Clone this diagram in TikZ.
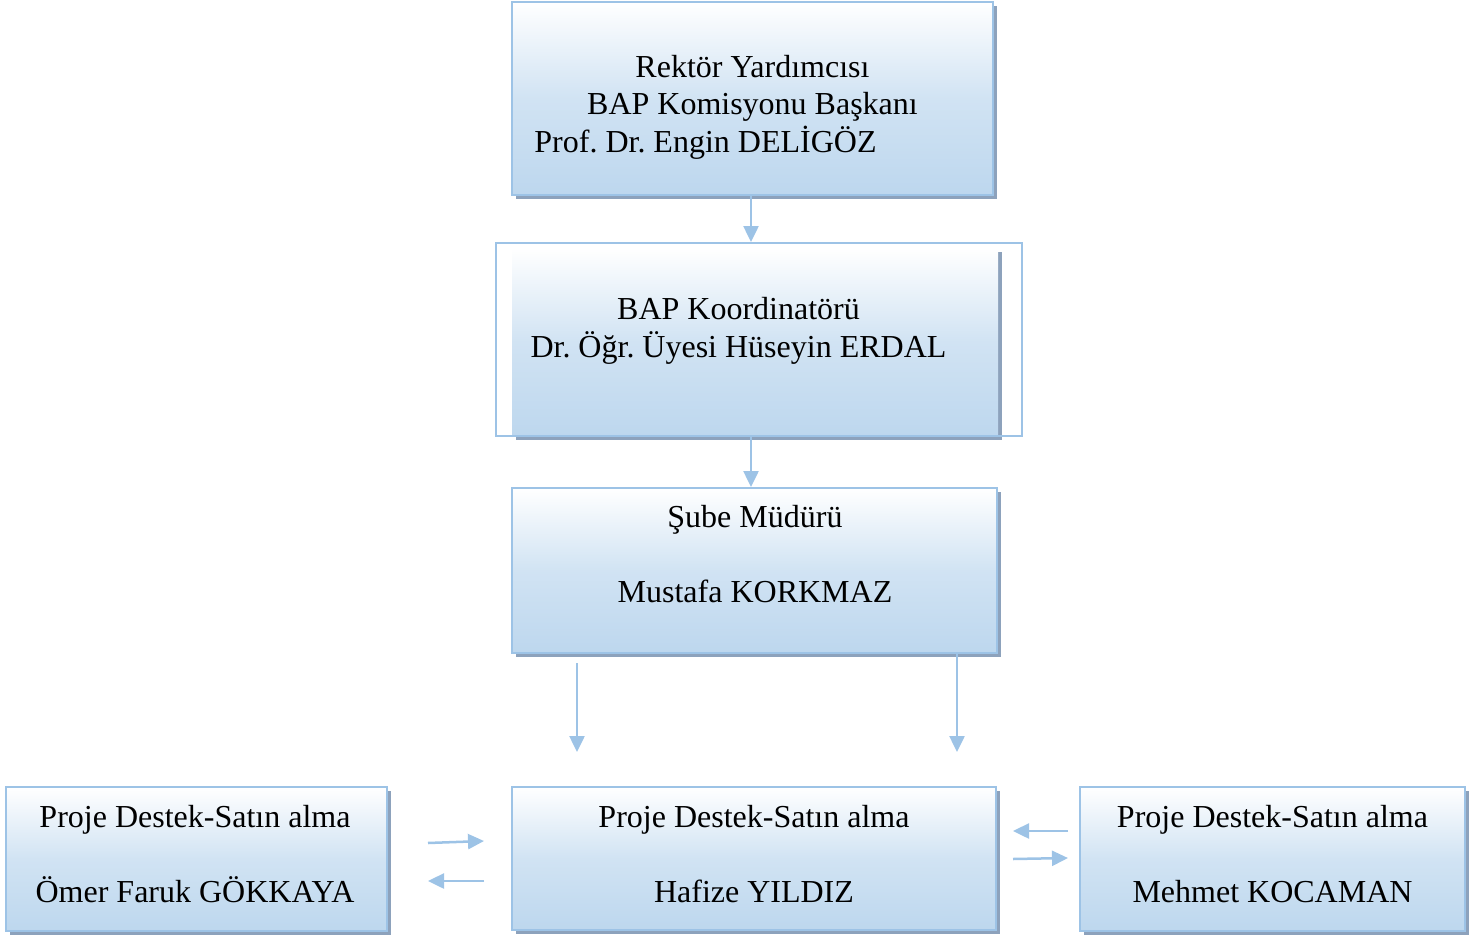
\documentclass[tikz,border=0pt]{standalone}
\usepackage{fontspec}
\setmainfont{Liberation Serif}
\usetikzlibrary{arrows.meta,shadows}
\frenchspacing
\definecolor{linec}{HTML}{9DC3E6}
\definecolor{fillc}{HTML}{BDD7EE}
\definecolor{shadec}{HTML}{8DA2BC}
\tikzset{
  box/.style={top color=white, bottom color=fillc, middle color=fillc!70!white,
    draw=linec, line width=2pt, inner sep=0pt,
    drop shadow={opacity=1, fill=shadec, shadow xshift=4pt, shadow yshift=-4pt}},
  txt/.style={inner sep=0pt, align=center, font=\fontsize{32}{37.5}\selectfont},
  conn/.style={draw=linec, line width=2.5pt, -{Triangle[width=15pt,length=16pt]}},
}
\begin{document}
\begin{tikzpicture}[x=1pt,y=-1pt]
  \useasboundingbox (0,0) rectangle (1476,937);
  %% top
  \node[box, minimum width=481pt, minimum height=193pt] (rektor) at (752.5,98.5) {};
  \node[txt] (rektortxt) at (752.5,107)
    {Rektör Yardımcısı\\BAP Komisyonu Başkanı\\Prof. Dr. Engin DELİGÖZ\hspace*{94pt}};
  %% coordinator
  \node[box, draw=none, minimum width=486pt, minimum height=188pt] (koord) at (755,342) {};
  \node[draw=linec, line width=2pt, minimum width=526pt, minimum height=193pt] (frame) at (759,339.5) {};
  \node[txt] (koordtxt) at (738.5,331) {BAP Koordinatörü\\Dr. Öğr. Üyesi Hüseyin ERDAL};
  %% branch manager
  \node[box, minimum width=485pt, minimum height=165pt] (sube) at (754.5,570.5) {};
  \node[txt] (subetxt) at (755,554) {Şube Müdürü\\[37.5pt]Mustafa KORKMAZ};
  %% staff
  \node[box, minimum width=381pt, minimum height=144pt] (left) at (196.5,859) {};
  \node[txt] (lefttxt) at (195,854) {Proje Destek-Satın alma\\[37.5pt]Ömer Faruk GÖKKAYA};
  \node[box, minimum width=484pt, minimum height=143pt] (mid) at (754,858.5) {};
  \node[txt] (midtxt) at (754,854) {Proje Destek-Satın alma\\[37.5pt]Hafize YILDIZ};
  \node[box, minimum width=385pt, minimum height=144pt] (right) at (1272.5,859) {};
  \node[txt] (righttxt) at (1272.5,854) {Proje Destek-Satın alma\\[37.5pt]Mehmet KOCAMAN};
  %% arrows
  \draw[conn] (rektor.south -| 751,0) -- (frame.north -| 751,0);
  \draw[conn] (koord.south -| 751,0) -- (sube.north -| 751,0);
  \coordinate (d1) at (577,752);
  \coordinate (d2) at (957,752);
  \draw[conn] ([yshift=-9pt]sube.south -| d1) -- (d1);
  \draw[conn] (sube.south -| d2) -- (d2);
  \coordinate (l1) at (428,843); \coordinate (l2) at (484,841);
  \coordinate (l3) at (484,881); \coordinate (l4) at (428,881);
  \coordinate (r1) at (1068,831); \coordinate (r2) at (1013,831);
  \coordinate (r3) at (1013,859); \coordinate (r4) at (1068,858);
  \foreach \a/\b in {l1/l2,l3/l4,r1/r2,r3/r4} \draw[conn] (\a) -- (\b);
\end{tikzpicture}
\end{document}
